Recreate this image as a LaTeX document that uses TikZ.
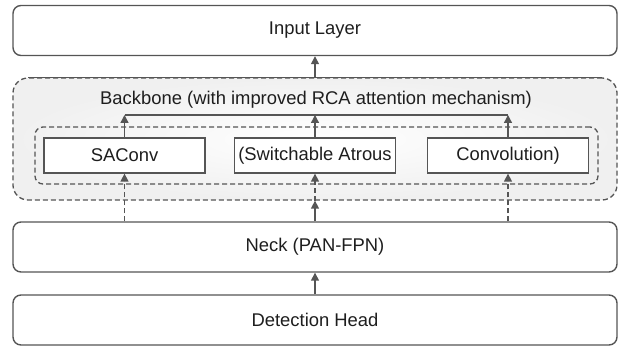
\documentclass[tikz,border=0pt]{standalone}
\usepackage{fontspec}
\setmainfont{Liberation Sans}
\usetikzlibrary{arrows.meta}
\definecolor{edge}{HTML}{555555}
\definecolor{ink}{HTML}{1E1E1E}
\definecolor{panel}{HTML}{F0F0F0}
\tikzset{
  label font/.style={font=\fontsize{18.4}{21}\selectfont},
  layerbox/.style={draw=edge, line width=1.4pt, rounded corners=8pt, fill=white,
    minimum width=604pt, minimum height=50pt, inner sep=0pt, text=ink, label font},
  groupbox/.style={draw=edge, line width=1.3pt, dash pattern=on 5pt off 3pt,
    inner sep=0pt},
  opbox/.style={draw=edge, line width=1.3pt, fill=white, minimum width=161pt,
    minimum height=35pt, inner sep=0pt, text=ink, label font},
  link/.style={draw=edge, line width=1.4pt},
  arr/.style={link, -{Triangle[length=8pt,width=8pt]}},
  dlink/.style={arr, dash pattern=on 5pt off 3pt},
}
\begin{document}
\begin{tikzpicture}[x=1pt,y=-1pt]
\useasboundingbox (0,0) rectangle (625,350);

% backbone group
\node[groupbox, rounded corners=15pt, minimum width=604pt, minimum height=122pt,
  inner color=white, outer color=panel] (bb) at (315,139) {};
\draw[link] ([xshift=16pt]bb.north west) -- ([xshift=-16pt]bb.north east);
\node[text=ink, label font] (bblabel) at (316,100)
  {Backbone (with improved RCA attention mechanism)};

% SAConv sub-group
\node[groupbox, rounded corners=8pt, minimum width=563pt, minimum height=57pt]
  (sac) at (316.5,155.5) {};
\node[opbox] (sa) at (124.5,155.5) {SAConv};
\node[opbox] (sw) at (315,155.5) {(Switchable Atrous};
\node[opbox] (cv) at (508,155.5) {Convolution)};

% stacked layers
\node[layerbox] (in) at (315,30.5) {Input Layer};
\node[layerbox] (neck) at (315,247) {Neck (PAN-FPN)};
\node[layerbox] (head) at (315,320) {Detection Head};

% merge line above the three operators
\coordinate (merge) at (0,115);
\draw[link] (sa.north |- merge) -- (cv.north |- merge);
\draw[arr] (sa.north) -- (sa.north |- merge);
\draw[arr] (sw.north) -- (sw.north |- merge);
\draw[arr] (cv.north) -- (cv.north |- merge);
\draw[arr] (bb.north -| in.south) -- (in.south);

% from the neck into the backbone
\draw[dlink] (neck.north -| sa.south) -- (sa.south);
\draw[dlink] (neck.north -| cv.south) -- (cv.south);
\draw[arr] (neck.north) -- (bb.south -| neck.north);
\draw[dlink] (bb.south -| sw.south) -- (sw.south);

% head to neck
\draw[arr] (head.north) -- (neck.south);
\end{tikzpicture}
\end{document}
